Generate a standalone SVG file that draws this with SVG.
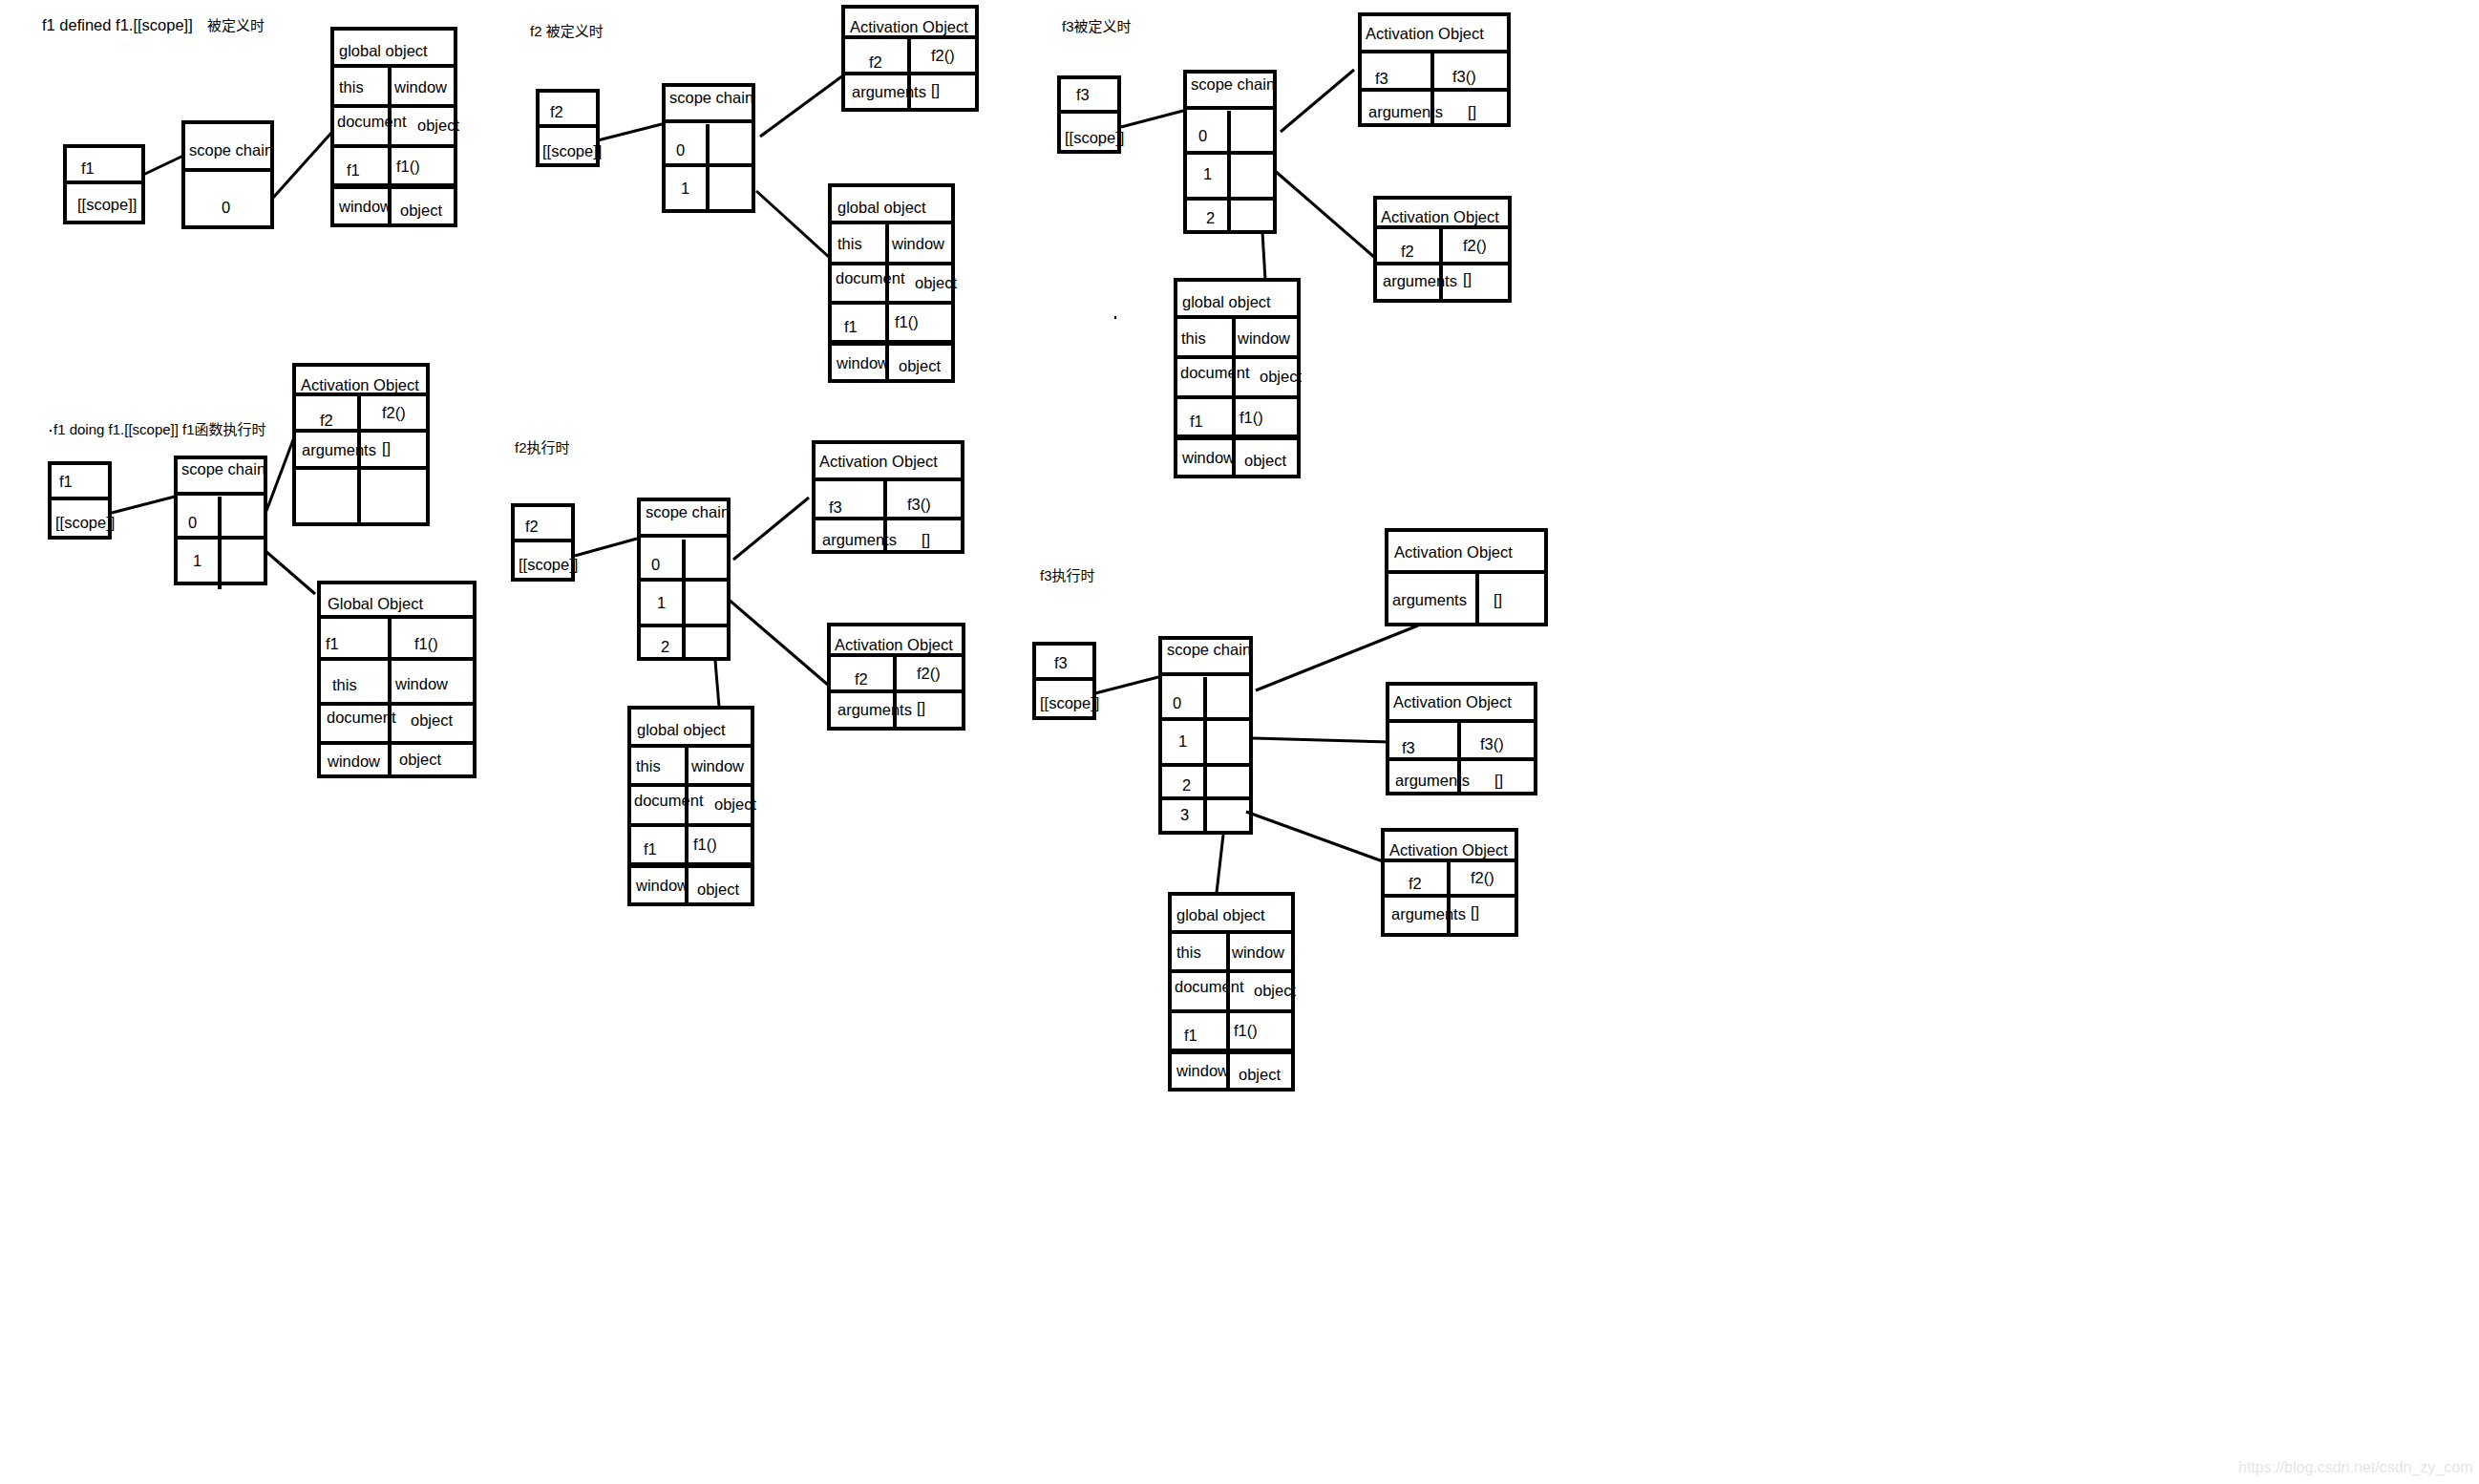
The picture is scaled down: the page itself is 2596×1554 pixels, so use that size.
<svg xmlns="http://www.w3.org/2000/svg" width="2596" height="1554" viewBox="0 0 2596 1554">
<style>
.b{fill:none;stroke:#000;stroke-width:4}
.d{stroke:#000;stroke-width:4;fill:none}
.c{stroke:#000;stroke-width:3;fill:none}
text{font-family:"Liberation Sans","Noto Sans CJK SC",sans-serif;font-size:16.5px;fill:#000}
.t{font-size:15px}
.wm{fill:#e6e6e6;font-size:16px}
</style>
<rect width="2596" height="1554" fill="#fff"/>

<!-- titles -->
<g id="titles">
<text x="44" y="32">f1 defined f1.[[scope]]</text>
<text x="217" y="32" class="t">被定义时</text>
<text x="555" y="38" class="t">f2 被定义时</text>
<text x="1112" y="33" class="t">f3被定义时</text>
<rect x="52" y="450" width="2" height="2" fill="#000"/>
<text x="56" y="455" class="t">f1 doing f1.[[scope]] f1函数执行时</text>
<text x="539" y="474" class="t">f2执行时</text>
<text x="1089" y="608" class="t">f3执行时</text>
<rect x="1167" y="331" width="2" height="3" fill="#000"/>
</g>

<!-- connectors -->
<g id="connectors" class="c">
<line x1="150" y1="183" x2="192" y2="163"/>
<line x1="286" y1="207" x2="348" y2="138"/>
<line x1="626" y1="147" x2="693" y2="130"/>
<line x1="796" y1="143" x2="883" y2="79"/>
<line x1="792" y1="200" x2="869" y2="270"/>
<line x1="1174" y1="133" x2="1239" y2="116"/>
<line x1="1341" y1="138" x2="1418" y2="73"/>
<line x1="1334" y1="178" x2="1440" y2="270"/>
<line x1="1322" y1="243" x2="1325" y2="293"/>
<line x1="117" y1="537" x2="183" y2="520"/>
<line x1="279" y1="535" x2="308" y2="458"/>
<line x1="278" y1="577" x2="330" y2="622"/>
<line x1="602" y1="582" x2="667" y2="564"/>
<line x1="768" y1="586" x2="847" y2="521"/>
<line x1="762" y1="627" x2="868" y2="718"/>
<line x1="749" y1="692" x2="753" y2="740"/>
<line x1="1147" y1="726" x2="1213" y2="709"/>
<line x1="1315" y1="723" x2="1485" y2="655"/>
<line x1="1312" y1="773" x2="1455" y2="777"/>
<line x1="1305" y1="850" x2="1448" y2="902"/>
<line x1="1281" y1="874" x2="1274" y2="935"/>
</g>

<!-- Panel 1 -->
<g id="p1-f1">
<rect class="b" x="68" y="153" width="82" height="80"/>
<path class="d" d="M68 191H151"/>
<text x="85" y="182">f1</text>
<text x="81" y="220">[[scope]]</text>
</g>
<g id="p1-scope">
<rect class="b" x="192" y="128" width="93" height="110"/>
<path class="d" d="M192 178H286"/>
<text x="198" y="163">scope chain</text>
<text x="232" y="223">0</text>
</g>
<g id="p1-global">
<rect class="b" x="348" y="30" width="129" height="206"/>
<path class="d" d="M348 69H478M348 111H478M348 153H478M408 69V238"/>
<path d="M348 195H478" stroke="#000" stroke-width="6"/>
<text x="355" y="59">global object</text>
<text x="355" y="97">this</text>
<text x="413" y="97">window</text>
<text x="353" y="133">document</text>
<text x="437" y="137">object</text>
<text x="363" y="184">f1</text>
<text x="415" y="180">f1()</text>
<text x="355" y="222">window</text>
<text x="419" y="226">object</text>
</g>

<!-- Panel 2 -->
<g id="p2-f2">
<rect class="b" x="563" y="95" width="63" height="78"/>
<path class="d" d="M563 132H627"/>
<text x="576" y="123">f2</text>
<text x="568" y="164">[[scope]]</text>
</g>
<g id="p2-scope">
<rect class="b" x="695" y="89" width="94" height="132"/>
<path class="d" d="M695 127H789M695 173H789M741 130V221"/>
<text x="701" y="108">scope chain</text>
<text x="708" y="163">0</text>
<text x="713" y="203">1</text>
</g>
<g id="p2-ao">
<rect class="b" x="883" y="7" width="140" height="108"/>
<path class="d" d="M883 39H1024M883 77H1024M952 39V117"/>
<text x="890" y="34">Activation Object</text>
<text x="910" y="71">f2</text>
<text x="975" y="64">f2()</text>
<text x="892" y="102">arguments</text>
<text x="975" y="100">[]</text>
</g>
<g id="p2-global">
<rect class="b" x="869" y="194" width="129" height="205"/>
<path class="d" d="M869 233H999M869 276H999M869 317H999M929 233V401"/>
<path d="M869 359H999" stroke="#000" stroke-width="6"/>
<text x="877" y="223">global object</text>
<text x="877" y="261">this</text>
<text x="934" y="261">window</text>
<text x="875" y="297">document</text>
<text x="958" y="302">object</text>
<text x="884" y="348">f1</text>
<text x="937" y="343">f1()</text>
<text x="876" y="386">window</text>
<text x="941" y="389">object</text>
</g>

<!-- Panel 3 -->
<g id="p3-f3">
<rect class="b" x="1109" y="81" width="63" height="78"/>
<path class="d" d="M1109 117H1173"/>
<text x="1127" y="105">f3</text>
<text x="1115" y="150">[[scope]]</text>
</g>
<g id="p3-scope">
<rect class="b" x="1241" y="75" width="94" height="168"/>
<path class="d" d="M1241 113H1335M1241 160H1335M1241 208H1335M1287 116V245"/>
<text x="1247" y="94">scope chain</text>
<text x="1255" y="148">0</text>
<text x="1260" y="188">1</text>
<text x="1263" y="234">2</text>
</g>
<g id="p3-ao1">
<rect class="b" x="1424" y="15" width="156" height="116"/>
<path class="d" d="M1424 54H1580M1424 94H1580M1500 54V133"/>
<text x="1430" y="41">Activation Object</text>
<text x="1440" y="88">f3</text>
<text x="1521" y="86">f3()</text>
<text x="1433" y="123">arguments</text>
<text x="1537" y="123">[]</text>
</g>
<g id="p3-ao2">
<rect class="b" x="1440" y="207" width="141" height="108"/>
<path class="d" d="M1440 238H1582M1440 276H1582M1509 238V317"/>
<text x="1446" y="233">Activation Object</text>
<text x="1467" y="269">f2</text>
<text x="1532" y="263">f2()</text>
<text x="1448" y="300">arguments</text>
<text x="1532" y="298">[]</text>
</g>
<g id="p3-global">
<rect class="b" x="1231" y="293" width="129" height="206"/>
<path class="d" d="M1231 332H1361M1231 374H1361M1231 416H1361M1292 332V501"/>
<path d="M1231 458H1361" stroke="#000" stroke-width="6"/>
<text x="1238" y="322">global object</text>
<text x="1237" y="360">this</text>
<text x="1296" y="360">window</text>
<text x="1236" y="396">document</text>
<text x="1319" y="400">object</text>
<text x="1246" y="447">f1</text>
<text x="1298" y="443">f1()</text>
<text x="1238" y="485">window</text>
<text x="1303" y="488">object</text>
</g>

<!-- Panel 4 -->
<g id="p4-f1">
<rect class="b" x="52" y="485" width="63" height="78"/>
<path class="d" d="M52 522H116"/>
<text x="62" y="510">f1</text>
<text x="58" y="553">[[scope]]</text>
</g>
<g id="p4-scope">
<rect class="b" x="184" y="479" width="94" height="132"/>
<path class="d" d="M184 517H280M184 563H280M230 520V617"/>
<text x="190" y="497">scope chain</text>
<text x="197" y="553">0</text>
<text x="202" y="593">1</text>
</g>
<g id="p4-ao">
<rect class="b" x="308" y="382" width="140" height="167"/>
<path class="d" d="M308 413H449M308 451H449M308 490H448M376 413V549"/>
<text x="315" y="409">Activation Object</text>
<text x="335" y="446">f2</text>
<text x="400" y="438">f2()</text>
<text x="316" y="477">arguments</text>
<text x="400" y="475">[]</text>
</g>
<g id="p4-global">
<rect class="b" x="334" y="610" width="163" height="203"/>
<path class="d" d="M334 646H499M334 690H497M334 737H499M334 778H495M408 646V815"/>
<text x="343" y="638">Global Object</text>
<text x="341" y="680">f1</text>
<text x="434" y="680">f1()</text>
<text x="348" y="723">this</text>
<text x="414" y="722">window</text>
<text x="342" y="757">document</text>
<text x="430" y="760">object</text>
<text x="343" y="803">window</text>
<text x="418" y="801">object</text>
</g>

<!-- Panel 5 -->
<g id="p5-f2">
<rect class="b" x="537" y="529" width="63" height="78"/>
<path class="d" d="M537 566H601"/>
<text x="550" y="557">f2</text>
<text x="543" y="597">[[scope]]</text>
</g>
<g id="p5-scope">
<rect class="b" x="669" y="523" width="94" height="167"/>
<path class="d" d="M669 561H763M669 607H763M669 655H763M716 565V692"/>
<text x="676" y="542">scope chain</text>
<text x="682" y="597">0</text>
<text x="688" y="637">1</text>
<text x="692" y="683">2</text>
</g>
<g id="p5-ao1">
<rect class="b" x="852" y="463" width="156" height="115"/>
<path class="d" d="M852 502H1008M852 543H1008M927 502V580"/>
<text x="858" y="489">Activation Object</text>
<text x="868" y="537">f3</text>
<text x="950" y="534">f3()</text>
<text x="861" y="571">arguments</text>
<text x="965" y="571">[]</text>
</g>
<g id="p5-ao2">
<rect class="b" x="868" y="654" width="141" height="109"/>
<path class="d" d="M868 686H1010M868 724H1010M937 686V765"/>
<text x="874" y="681">Activation Object</text>
<text x="895" y="717">f2</text>
<text x="960" y="711">f2()</text>
<text x="877" y="749">arguments</text>
<text x="960" y="747">[]</text>
</g>
<g id="p5-global">
<rect class="b" x="659" y="741" width="129" height="206"/>
<path class="d" d="M659 781H789M659 822H789M659 864H789M719 781V949"/>
<path d="M659 906H789" stroke="#000" stroke-width="6"/>
<text x="667" y="770">global object</text>
<text x="666" y="808">this</text>
<text x="724" y="808">window</text>
<text x="664" y="844">document</text>
<text x="748" y="848">object</text>
<text x="674" y="895">f1</text>
<text x="726" y="890">f1()</text>
<text x="666" y="933">window</text>
<text x="730" y="937">object</text>
</g>

<!-- Panel 6 -->
<g id="p6-f3">
<rect class="b" x="1083" y="674" width="63" height="78"/>
<path class="d" d="M1083 711H1147"/>
<text x="1104" y="700">f3</text>
<text x="1089" y="742">[[scope]]</text>
</g>
<g id="p6-scope">
<rect class="b" x="1215" y="668" width="95" height="204"/>
<path class="d" d="M1215 706H1310M1215 753H1310M1215 801H1310M1215 836H1308M1262 709V872"/>
<text x="1222" y="686">scope chain</text>
<text x="1228" y="742">0</text>
<text x="1234" y="782">1</text>
<text x="1238" y="828">2</text>
<text x="1236" y="859">3</text>
</g>
<g id="p6-ao1">
<rect class="b" x="1452" y="555" width="167" height="99"/>
<path class="d" d="M1452 599H1619M1547 599V654"/>
<text x="1460" y="584">Activation Object</text>
<text x="1458" y="634">arguments</text>
<text x="1564" y="634">[]</text>
</g>
<g id="p6-ao2">
<rect class="b" x="1453" y="716" width="155" height="115"/>
<path class="d" d="M1453 755H1608M1453 795H1608M1528 755V833"/>
<text x="1459" y="741">Activation Object</text>
<text x="1468" y="789">f3</text>
<text x="1550" y="785">f3()</text>
<text x="1461" y="823">arguments</text>
<text x="1565" y="823">[]</text>
</g>
<g id="p6-ao3">
<rect class="b" x="1448" y="869" width="140" height="110"/>
<path class="d" d="M1448 901H1590M1448 938H1590M1517 901V981"/>
<text x="1455" y="896">Activation Object</text>
<text x="1475" y="931">f2</text>
<text x="1540" y="925">f2()</text>
<text x="1457" y="963">arguments</text>
<text x="1540" y="961">[]</text>
</g>
<g id="p6-global">
<rect class="b" x="1225" y="936" width="129" height="205"/>
<path class="d" d="M1225 976H1355M1225 1017H1356M1225 1059H1356M1286 976V1143"/>
<path d="M1225 1101H1355" stroke="#000" stroke-width="6"/>
<text x="1232" y="964">global object</text>
<text x="1232" y="1003">this</text>
<text x="1290" y="1003">window</text>
<text x="1230" y="1039">document</text>
<text x="1313" y="1043">object</text>
<text x="1240" y="1090">f1</text>
<text x="1292" y="1085">f1()</text>
<text x="1232" y="1127">window</text>
<text x="1297" y="1131">object</text>
</g>

<text class="wm" x="2344" y="1542">https://blog.csdn.net/csdn_zy_com</text>
</svg>
